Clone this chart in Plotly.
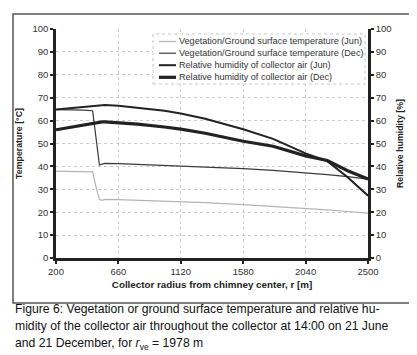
import plotly.graph_objects as go

# ---- data ----
r_m = [200, 300, 400, 470, 495, 520, 540, 560, 660, 800, 1000, 1120, 1300, 1580, 1800, 2040, 2200, 2350, 2500]
veg_jun = [37.9, 37.9, 37.8, 37.6, 31.0, 25.6, 25.2, 25.6, 25.5, 25.2, 24.9, 24.7, 24.2, 23.3, 22.6, 21.6, 21.0, 20.3, 19.6]
veg_dec = [64.8, 64.8, 64.6, 64.3, 52.0, 40.6, 41.0, 41.3, 41.2, 40.9, 40.5, 40.2, 39.7, 39.0, 38.3, 37.3, 36.4, 35.5, 34.4]
rh_jun = [64.8, 65.3, 65.9, 66.3, 66.5, 66.7, 66.8, 66.8, 66.5, 65.7, 64.3, 63.1, 60.8, 56.2, 52.0, 45.7, 42.3, 35.3, 27.2]
rh_dec = [56.0, 57.0, 58.2, 58.9, 59.2, 59.4, 59.4, 59.4, 59.1, 58.5, 57.2, 56.3, 54.5, 51.0, 48.8, 44.6, 42.6, 38.1, 34.5]

x_ticks = [200, 660, 1120, 1580, 2040, 2500]
y_ticks = list(range(0, 101, 10))

names = [
    "Vegetation/Ground surface temperature (Jun)",
    "Vegetation/Ground surface temperature (Dec)",
    "Relative humidity of collector air (Jun)",
    "Relative humidity of collector air (Dec)",
]
colors = ["#b4b4b4", "#3a3a3a", "#222222", "#222222"]
widths = [1.2, 1.2, 2.0, 3.2]

W, H = 417, 355
L, R, T, B = 48, 360, 21, 250


def px(xp):
    return (xp - L) / (R - L)


def py(yp):
    return (B - yp) / (B - T)


fig = go.Figure()
series = [veg_jun, veg_dec, rh_jun, rh_dec]
axes = ["y", "y", "y2", "y2"]
for s, n, c, w, a in zip(series, names, colors, widths, axes):
    fig.add_trace(go.Scatter(x=r_m, y=s, name=n, mode="lines", yaxis=a,
                             line=dict(color=c, width=w), showlegend=False))

grid = dict(showgrid=True, gridcolor="#cccccc", gridwidth=1, griddash="3px,3px")
tickfont = dict(family="Liberation Sans, Arial", size=9.5, color="#333")
titlefont = dict(family="Liberation Sans, Arial", size=8.8, color="#222", weight="bold")
xtitlefont = dict(family="Liberation Sans, Arial", size=9.8, color="#222", weight="bold")

fig.update_layout(
    width=W, height=H,
    margin=dict(l=L, r=W - R, t=T, b=H - B, autoexpand=False),
    paper_bgcolor="white", plot_bgcolor="white",
    xaxis=dict(range=[200, 2500], tickvals=x_ticks, ticktext=[str(v) for v in x_ticks],
               showline=True, linecolor="#222", linewidth=2.5,
               ticks="outside", ticklen=3, tickwidth=2, tickcolor="#222",
               tickfont=tickfont, zeroline=False,
               title=dict(text="Collector radius from chimney center, r [m]", font=xtitlefont, standoff=5),
               **grid),
    yaxis=dict(range=[0, 100], tickvals=y_ticks, showline=True, linecolor="#222", linewidth=2.5,
               ticks="outside", ticklen=3, tickwidth=2, tickcolor="#222",
               tickfont=tickfont, zeroline=False,
               title=dict(text="Temperature [°C]", font=titlefont, standoff=9),
               **grid),
    yaxis2=dict(range=[0, 100], tickvals=y_ticks, overlaying="y", side="right",
                showline=True, linecolor="#222", linewidth=2.5,
                ticks="outside", ticklen=3, tickwidth=2, tickcolor="#222",
                tickfont=tickfont, zeroline=False, showgrid=False,
                title=dict(text="Relative humidity [%]", font=titlefont, standoff=7)),
)

shapes = []
# outer frame
shapes.append(dict(type="rect", xref="paper", yref="paper",
                   x0=px(5), x1=px(406), y0=py(295), y1=py(6),
                   line=dict(color="#555", width=1.5), layer="below"))
# legend box
lx0, lx1, ly0, ly1 = 145, 357, 26, 76
shapes.append(dict(type="rect", xref="paper", yref="paper",
                   x0=px(lx0), x1=px(lx1), y0=py(ly1), y1=py(ly0),
                   line=dict(color="#c8c8c8", width=1, dash="dot"), fillcolor="white", layer="above"))
rows = [33.5, 45.2, 57.2, 69.3]
annotations = []
for yy, n, c, w in zip(rows, names, colors, widths):
    shapes.append(dict(type="line", xref="paper", yref="paper",
                       x0=px(151), x1=px(168), y0=py(yy), y1=py(yy),
                       line=dict(color=c, width=w), layer="above"))
    annotations.append(dict(text=n, xref="paper", yref="paper", x=px(169), y=py(yy),
                            xanchor="left", yanchor="middle", showarrow=False,
                            font=dict(family="Liberation Sans, Arial", size=9.1, color="#333")))

cap_font = dict(family="Liberation Sans, Arial", size=12.2, color="#111")
cap_lines = [
    "Figure 6: Vegetation or ground surface temperature and relative hu-",
    "midity of the collector air throughout the collector at 14:00 on 21 June",
    "and 21 December, for <i>r</i><sub>ve</sub> = 1978 m",
]
for yy, t in zip([300.5, 318, 335.5], cap_lines):
    annotations.append(dict(text=t, xref="paper", yref="paper", x=px(5), y=py(yy),
                            xanchor="left", yanchor="middle", showarrow=False, font=cap_font))

fig.update_layout(shapes=shapes, annotations=annotations)
fig.write_html("out.html")
